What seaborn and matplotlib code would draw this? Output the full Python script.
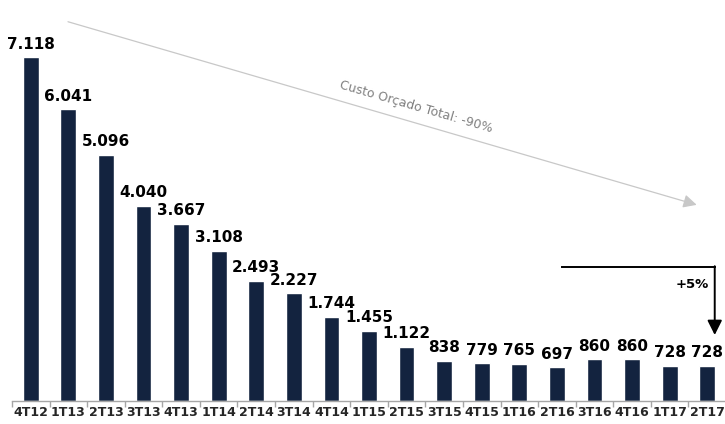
import matplotlib
matplotlib.use("Agg")
import matplotlib.pyplot as plt
import seaborn as sns
import pandas as pd
import numpy as np

quarters = ["4T12", "1T13", "2T13", "3T13", "4T13", "1T14", "2T14", "3T14", "4T14", "1T15",
            "2T15", "3T15", "4T15", "1T16", "2T16", "3T16", "4T16", "1T17", "2T17"]
custo = [7118, 6041, 5096, 4040, 3667, 3108, 2493, 2227, 1744, 1455,
         1122, 838, 779, 765, 697, 860, 860, 728, 728]
labels = ["7.118", "6.041", "5.096", "4.040", "3.667", "3.108", "2.493", "2.227", "1.744", "1.455",
          "1.122", "838", "779", "765", "697", "860", "860", "728", "728"]

df = pd.DataFrame({"trimestre": quarters, "custo": custo})

sns.set_theme(style="white")
plt.rcParams["font.family"] = ["DejaVu Sans"]

fig = plt.figure(figsize=(7.25, 4.24), dpi=100)
ax = fig.add_axes([12 / 725, 23 / 424, 714 / 725, 401 / 424])

bar_color = "#13233f"
sns.barplot(data=df, x="trimestre", y="custo", color=bar_color, width=0.42,
            saturation=1, ax=ax)

ax.set_xlim(-0.5, len(quarters) - 0.5)
ax.set_ylim(0, 8300)

for i, (v, t) in enumerate(zip(custo, labels)):
    ax.annotate(t, (i, v), xytext=(0, 4), textcoords="offset points",
                ha="center", va="bottom", fontsize=11, fontweight="bold", color="black")

# axes styling
for s in ["top", "right", "left"]:
    ax.spines[s].set_visible(False)
ax.spines["bottom"].set_color("#a6a6a6")
ax.spines["bottom"].set_linewidth(1)
ax.set_yticks([])
ax.set_xlabel("")
ax.set_ylabel("")
ax.set_xticks(np.arange(len(quarters)))
ax.set_xticklabels(quarters, fontsize=9, fontweight="bold")
ax.tick_params(axis="x", which="major", length=0, pad=3.5)
ax.set_xticks(np.arange(len(quarters) + 1) - 0.5, minor=True)
ax.tick_params(axis="x", which="minor", bottom=True, length=4, color="#a6a6a6",
               width=1, direction="out")
ax.grid(False)

# overall trend arrow
ax.annotate("", xy=(17.72, 4060), xytext=(0.99, 7850),
            arrowprops=dict(arrowstyle="-|>", color="#c8c8c8", lw=0.9,
                            mutation_scale=20, shrinkA=0, shrinkB=0))
ax.text(10.2, 5960, "Custo Orçado Total: -90%", rotation=-16.2, rotation_mode="anchor",
        ha="center", va="bottom", fontsize=9, color="#808080")

# recent variation arrow
ax.plot([14.13, 18.2], [2774, 2774], color="black", lw=1.4, solid_capstyle="projecting")
ax.annotate("", xy=(18.2, 1366), xytext=(18.2, 2790),
            arrowprops=dict(arrowstyle="-|>", color="black", lw=1.4,
                            mutation_scale=22, shrinkA=0, shrinkB=0))
ax.text(18.05, 2420, "+5%", ha="right", va="center", fontsize=9.5, fontweight="bold",
        color="black")

fig.savefig("out.png", dpi=100, facecolor="white")
